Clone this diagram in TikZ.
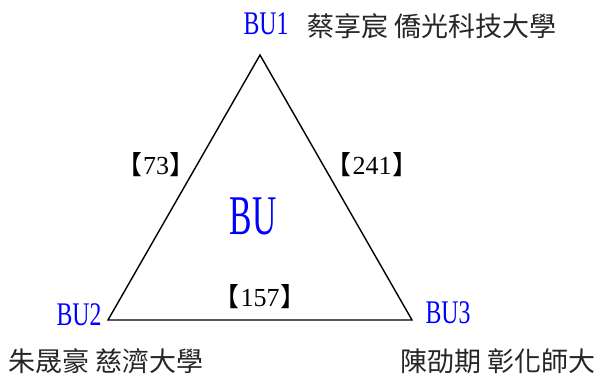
\documentclass[tikz,border=0pt]{standalone}
\usepackage{fontspec}
\setmainfont{Liberation Serif}
\newfontfamily\cjk{Noto Sans CJK TC}
\newfontfamily\cjkbr{Noto Sans CJK JP}
\definecolor{bublue}{RGB}{0,0,255}
\newcommand{\narrow}[2][0.72]{\scalebox{#1}[1]{#2}}
\newcommand{\cnt}[1]{{\cjkbr 【\kern1pt}#1{\cjkbr \kern1pt】}}

\begin{document}
\begin{tikzpicture}[x=1pt,y=-1pt]
\tikzset{
  buname/.style={text=bublue, font=\fontsize{33}{33}\selectfont, inner sep=0},
  member/.style={text=black!85, font=\cjk\fontsize{27}{27}\selectfont, inner sep=0},
  count/.style={font=\fontsize{26}{26}\selectfont, inner sep=0}
}
\useasboundingbox (0,0) rectangle (598,374);

% vertices
\coordinate (bu1) at (260,55);
\coordinate (bu2) at (108,320);
\coordinate (bu3) at (412,320);

% triangle
\draw[line width=1.4pt, line join=miter] (bu1) -- (bu2) -- (bu3) -- cycle;

% group labels
\node[buname] (lab1) at (266,24) {\narrow{BU1}};
\node[buname] (lab2) at (79,315) {\narrow{BU2}};
\node[buname] (lab3) at (448,313) {\narrow{BU3}};
\node[buname, font=\fontsize{56}{56}\selectfont] (center) at (253,216) {\narrow[0.6]{BU}};

% members
\node[member] (mem1) at (432,26) {蔡享宸 僑光科技大學};
\node[member] (mem2) at (106,361) {朱晟豪 慈濟大學};
\node[member] (mem3) at (498,361) {陳劭期 彰化師大};

% edge counts
\node[count] (c12) at (156,165) {\cnt{73}};
\node[count] (c13) at (372,165) {\cnt{241}};
\node[count] (c23) at (260,297) {\cnt{157}};

\end{tikzpicture}
\end{document}
